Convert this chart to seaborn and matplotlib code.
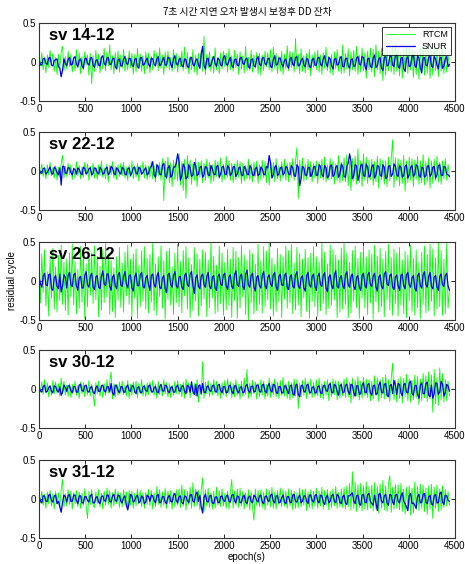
import numpy as np
import pandas as pd
import matplotlib
matplotlib.use("Agg")
import matplotlib.pyplot as plt
import seaborn as sns

# ---------------- data (residual, cycle) ----------------
title = "7초 시간 지연 오차 발생시 보정후 DD 잔차"
panel_labels = ["sv 14-12", "sv 22-12", "sv 26-12", "sv 30-12", "sv 31-12"]
series_names = ["RTCM", "SNUR"]
rtcm_step = 15       # s; RTCM samples at 0, 15, 30 ...
snur_step = 30       # s; SNUR "_a" at 0, 30, 60 ...; "_b" at 15, 45, 75 ...
xticks = [0, 500, 1000, 1500, 2000, 2500, 3000, 3500, 4000, 4500]
yticks = [-0.5, 0, 0.5]
ytick_labels = ["-0.5", "0", "0.5"]

rtcm_14 = [.08, -.05, .12, -.10, .04, -.14, .09, -.07, .15, -.03, .11, -.12, .06, -.16, .10, -.08, .13, .20, -.11, .07,
           -.09, .14, -.06, .10, -.13, .05, -.11, .16, -.08, .12, -.15, .07, -.10, .13, -.04, .09, -.17, .11, -.28, .08,
           -.12, .15, -.07, .10, -.14, .06, -.09, .18, -.11, .13, -.05, .22, -.10, .08, -.15, .12, -.06, .14, -.13, .09,
           -.08, .16, -.12, .05, -.10, .14, -.07, .11, -.16, .09, -.13, .17, -.06, .10, -.12, .08, -.15, .13, -.09, .11,
           -.14, .07, -.10, .15, -.05, .12, -.11, .18, -.08, .09, -.16, .13, -.07, .14, -.10, .06, -.12, .16, -.09, .11,
           -.13, .08, -.06, .14, -.11, .19, -.09, .12, -.15, .07, -.10, .16, -.13, .09, -.17, .11, -.08, .15, -.12, .33,
           -.16, .10, -.08, .13, -.12, .07, -.14, .18, -.10, .06, -.15, .12, -.09, .14, -.06, .11, -.13, .17, -.10, .08,
           -.12, .15, -.07, .10, -.16, .13, -.09, .08, -.14, .20, -.11, .06, -.10, .15, -.13, .09, -.08, .12, -.15, .11,
           -.17, .09, -.11, .14, -.06, .12, -.10, .16, -.13, .19, -.08, .11, -.15, .07, -.12, .14, -.16, .10, -.09, .21,
           -.11, .14, -.07, .12, -.13, .30, -.09, .10, -.15, .17, -.12, .08, -.14, .11, -.10, .16, -.18, .09, -.07, .13,
           -.10, .15, -.13, .09, -.16, .12, -.08, .19, -.11, .07, -.14, .10, -.17, .13, -.09, .16, -.12, .08, -.15, .22,
           -.14, .11, -.09, .17, -.18, .13, -.10, .15, -.12, .20, -.16, .09, -.13, .18, -.11, .12, -.21, .14, -.10, .18,
           -.13, .16, -.19, .22, -.10, .14, -.15, .18, -.24, .12, -.17, .19, -.11, .15, -.13, .21, -.16, .25, -.12, .17,
           -.18, .13, -.21, .16, -.12, .19, -.15, .23, -.10, .17, -.20, .14, -.16, .12, -.22, .18, -.13, .20, -.17, .15,
           -.14, .19, -.21, .13, -.17, .20, -.11, .16, -.19, .14, -.12, .18, -.15, .10, -.13, .09, -.06]

rtcm_22 = [.06, -.04, .09, -.07, .03, -.10, .08, -.05, .11, -.06, .04, -.09, .07, -.12, .05, -.08, .10, .20, -.09, .06,
           -.07, .10, -.05, .08, -.11, .04, -.09, .12, -.06, .07, -.10, .05, -.08, .11, -.04, .09, -.12, .06, -.07, .10,
           -.09, .05, -.11, .08, -.06, .13, -.08, .04, -.10, .09, -.14, .07, -.05, .12, -.09, .06, -.11, .08, -.07, .10,
           -.06, .11, -.09, .05, -.12, .08, -.07, .13, -.10, .06, -.08, .10, -.13, .07, -.05, .12, -.09, .08, -.11, .06,
           -.08, .12, -.10, .07, -.14, .09, -.06, .11, -.12, .16, -.38, .13, -.09, .18, -.15, .10, -.20, .14, -.11, .17,
           -.13, .22, -.18, .12, -.25, .15, -.35, .20, -.10, .14, -.17, .09, -.12, .16, -.20, .11, -.08, .13, -.15, .10,
           -.12, .15, -.09, .11, -.16, .08, -.13, .14, -.07, .12, -.10, .17, -.14, .09, -.11, .19, -.08, .13, -.12, .10,
           -.15, .09, -.11, .14, -.08, .12, -.16, .10, -.13, .07, -.10, .15, -.12, .09, -.14, .11, -.07, .13, -.16, .08,
           -.11, .14, -.09, .12, -.15, .10, -.18, .13, -.08, .11, -.14, .16, -.10, .07, -.13, .12, -.09, .15, -.12, .10,
           -.14, .11, -.08, .16, -.12, .13, .30, -.35, .14, -.10, .17, -.13, .09, -.11, .15, -.08, .12, -.14, .10, -.09,
           .13, -.16, .11, -.09, .15, -.12, .18, -.14, .08, -.11, .16, -.10, .13, -.17, .09, -.12, .20, -.15, .11, -.13,
           .17, -.14, .21, -.19, .12, -.25, .16, -.13, .19, -.17, .28, -.15, .13, -.20, .22, -.12, .18, -.16, .14, -.11,
           .15, -.18, .12, -.14, .19, -.22, .16, -.11, .14, -.17, .13, -.20, .18, -.13, .15, .40, -.21, .17, -.12, .16,
           -.19, .14, -.16, .20, -.26, .13, -.15, .18, -.12, .16, -.20, .14, -.11, .19, -.17, .13, -.15, .21, -.18, .12,
           -.14, .17, -.22, .13, -.16, .15, -.12, .19, -.14, .11, -.17, .13, -.10, .16, -.12, .09, -.08]

rtcm_26 = [.20, -.28, .35, -.15, .40, -.32, .12, -.45, .30, -.22, .42, -.36, .18, -.40, .33, -.25, .46, -.30, .24, -.38,
           .28, -.44, .36, -.20, .47, -.31, .25, -.42, .15, -.35, .44, -.27, .38, -.48, .22, -.33, .41, -.18, .36, -.29,
           .45, -.24, .32, -.46, .19, -.37, .40, -.28, .48, -.21, .34, -.43, .26, -.39, .17, -.47, .31, -.25, .43, -.34,
           .23, -.40, .37, -.19, .46, -.30, .28, -.45, .35, -.22, .41, -.48, .20, -.33, .39, -.26, .44, -.36, .29, -.41,
           .34, -.27, .48, -.38, .22, -.44, .31, -.20, .45, -.35, .26, -.49, .38, -.24, .42, -.31, .18, -.43, .36, -.28,
           .47, -.33, .25, -.41, .39, -.19, .44, -.36, .30, -.47, .21, -.38, .43, -.26, .35, -.45, .28, -.32, .40, -.23,
           .37, -.46, .27, -.34, .49, -.22, .32, -.42, .20, -.39, .45, -.29, .36, -.44, .24, -.37, .41, -.31, .28, -.47,
           .43, -.25, .38, -.48, .30, -.35, .46, -.21, .33, -.43, .27, -.50, .40, -.28, .35, -.42, .22, -.38, .47, -.30,
           .26, -.41, .44, -.33, .38, -.24, .49, -.36, .29, -.45, .21, -.39, .42, -.27, .34, -.47, .31, -.23, .45, -.35,
           .39, -.28, .47, -.42, .23, -.37, .43, -.31, .35, -.46, .28, -.22, .41, -.39, .30, -.48, .36, -.26, .44, -.33,
           .31, -.45, .25, -.38, .48, -.29, .37, -.43, .22, -.35, .46, -.31, .40, -.24, .33, -.47, .27, -.40, .42, -.36,
           .48, -.30, .36, -.47, .24, -.41, .39, -.26, .45, -.34, .29, -.48, .37, -.22, .44, -.35, .31, -.43, .40, -.28,
           .35, -.49, .46, -.27, .32, -.40, .42, -.33, .28, -.46, .38, -.24, .47, -.37, .30, -.44, .41, -.29, .36, -.45,
           .43, -.31, .27, -.42, .38, -.47, .33, -.25, .46, -.39, .29, -.44, .40, -.34, .24, -.48, .37, -.30, .45, -.41,
           .34, -.38, .47, -.26, .41, -.45, .30, -.36, .49, -.33, .39, -.44, .28, -.42, .48, -.35, -.10]

rtcm_30 = [.06, -.04, .09, -.07, .12, -.05, .08, -.10, .04, -.08, .11, -.06, .09, -.05, .07, -.09, .14, -.06, .10, -.08,
           .05, -.09, .07, -.11, .06, -.04, .10, -.08, .05, -.12, .09, -.06, .08, -.10, .04, -.07, .11, -.09, .06, -.05,
           -.22, .08, -.06, .10, -.09, .05, -.11, .07, -.08, .12, -.05, .09, .22, -.13, .07, -.10, .06, -.08, .09, -.05,
           .10, -.07, .05, -.09, .11, -.12, .06, -.08, .09, -.05, .10, -.11, .07, -.06, .12, -.09, .05, -.10, .08, -.07,
           .09, -.05, .11, -.08, .06, -.12, .10, -.07, .05, -.09, .12, -.06, .08, -.10, .07, -.11, .05, -.08, .10, -.06,
           .11, -.07, .06, -.10, .09, -.12, .13, -.05, .08, -.11, .10, -.06, .07, -.09, .12, -.17, .06, -.08, .35, -.12,
           .09, -.06, .11, -.10, .07, -.08, .12, -.05, .10, -.09, .06, -.12, .08, -.07, .11, -.10, .13, -.06, .09, -.11,
           .07, -.10, .12, -.08, .06, -.13, .10, -.09, .14, -.07, .25, -.12, .08, -.10, .11, -.06, .09, -.13, .07, -.10,
           .12, -.08, .10, -.13, .06, -.09, .14, -.11, .08, -.07, .13, -.10, .09, -.12, .11, -.08, .15, -.09, .07, -.12,
           .10, -.14, .08, -.11, .13, -.09, .12, -.25, .07, -.10, .11, -.08, .14, -.12, .09, -.07, .13, -.11, .08, -.10,
           .12, -.09, .14, -.11, .07, -.13, .10, -.08, .12, -.15, .09, -.10, .13, -.07, .11, -.14, .10, -.12, .08, -.09,
           .13, -.11, .15, -.10, .09, -.18, .14, -.12, .11, -.09, .16, -.14, .10, -.12, .15, -.08, .13, -.11, .12, -.15,
           .10, -.13, .17, -.09, .14, -.16, .12, -.11, .15, -.13, .18, -.10, .12, -.16, .14, .33, -.14, .11, -.17, .13,
           -.12, .16, -.18, .14, -.10, .19, -.15, .13, -.17, .11, -.14, .18, -.12, .16, -.20, .13, -.15, .20, -.11, .17,
           -.16, .22, -.13, .18, -.30, .25, -.19, .15, -.21, .27, -.14, .20, -.17, .12, -.15, .10, -.09]

rtcm_31 = [.08, -.05, .10, -.08, .06, -.12, .09, -.06, .11, -.09, .07, -.13, .10, -.06, .08, -.11, .12, .25, -.10, .07,
           -.09, .12, -.07, .10, -.13, .08, -.06, .11, -.10, .09, -.12, .07, -.08, .13, -.09, -.25, .10, -.07, .12, -.08,
           -.11, .09, -.06, .12, -.10, .07, -.13, .10, -.08, .14, -.07, .11, -.12, .08, -.09, .13, -.06, .10, -.11, .08,
           -.10, .12, -.07, .09, -.13, .11, -.08, .10, -.12, .07, -.09, .13, -.06, .11, -.10, .08, -.12, .09, -.07, .12,
           -.09, .11, -.13, .08, -.10, .16, -.07, .12, -.11, .09, -.08, .14, -.12, .10, -.06, .11, -.13, .08, -.10, .12,
           -.08, .13, -.11, .18, -.09, .12, -.14, .10, -.07, .15, -.12, .21, -.10, .13, -.09, .11, -.14, .12, .27, -.16,
           .12, -.09, .14, -.11, .08, -.13, .10, -.12, .15, -.08, .11, -.10, .13, -.09, .07, -.12, .10, -.13, .09, .25,
           -.12, .10, -.08, .13, -.11, .14, -.09, .10, -.13, .08, -.10, .12, -.14, .09, -.11, -.27, .13, -.08, .11, -.10,
           .12, -.11, .09, -.14, .13, -.08, .11, -.10, .15, -.12, .09, -.13, .11, -.07, .14, -.10, .12, -.09, .10, -.12,
           .13, -.09, .11, -.14, .10, -.12, .08, -.11, .14, -.10, .12, -.08, .13, -.15, .09, -.11, .12, -.13, .10, -.09,
           .14, -.12, .10, -.09, .15, -.13, .11, -.08, .12, -.14, .10, -.11, .13, -.09, .16, -.12, .08, -.10, .13, -.11,
           .15, -.13, .17, -.10, .20, -.14, .35, -.12, .22, -.16, .18, -.11, .20, -.15, .17, -.13, .22, -.14, .16, -.12,
           .18, -.15, .21, -.13, .16, -.18, .19, -.12, .24, -.14, .17, -.16, .20, .30, -.17, .15, -.13, .19, -.12, .18,
           -.14, .20, -.16, .13, -.19, .15, -.12, .17, -.21, .14, -.18, .22, -.13, .16, -.15, .19, -.12, .18, -.16, .14,
           -.20, .17, -.13, .19, -.25, .15, -.12, .18, -.16, .13, -.14, .17, -.11, .12, -.09, .10, -.08]

snur_14_a = [.02, -.04, .05, -.03, .06, -.05, .03, -.06, -.19, .04,
             -.05, .06, -.03, .07, -.06, .04, -.08, .05, -.04, .06,
             -.07, .03, -.05, .08, -.04, .06, -.03, .05, -.09, .04,
             -.05, .07, -.03, .04, -.06, .05, -.08, .06, -.03, .05,
             -.06, .04, -.05, .07, -.03, .06, -.04, .05, -.07, .08,
             -.04, .05, -.06, .03, -.07, .06, -.05, .04, -.08, .20,
             -.09, .05, -.04, .07, -.06, .03, -.05, .08, -.04, .06,
             -.07, .04, -.05, .06, -.03, .05, -.08, .04, -.06, .07,
             -.05, .06, -.04, .05, -.07, .08, -.03, .05, -.06, .04,
             -.08, .06, -.05, .07, -.04, .05, -.06, .03, -.07, .05,
             -.04, .06, -.05, .08, -.06, .04, -.09, .05, -.03, .07,
             -.06, .05, -.08, .04, -.05, .07, -.04, .06, -.10, .05,
             -.07, .09, -.05, .06, -.11, .07, -.04, .08, -.06, .10,
             -.08, .06, -.12, .07, -.05, .09, -.07, .05, -.14, .06,
             -.05, .08, -.07, .04, -.09, .06, -.05, .07, -.03]
snur_14_b = [-.03, .04, -.02, .05, -.04, .02, .04, -.08, -.10, -.02,
             .03, -.04, .05, -.03, .02, -.05, .04, -.02, .05, -.04,
             .02, -.04, .06, -.02, .05, -.03, .04, -.06, .03, -.05,
             .04, -.02, .05, -.04, .03, -.06, .05, -.04, .02, -.03,
             .05, -.03, .04, -.05, .02, -.04, .06, -.03, .04, -.02,
             .03, -.05, .04, -.06, .05, -.03, .02, -.04, .10, -.05,
             .04, -.06, .03, -.02, .05, -.04, .06, -.03, .02, -.05,
             .03, -.04, .05, -.02, .04, -.06, .03, -.05, .04, -.03,
             .05, -.02, .04, -.06, .03, -.04, .05, -.03, .02, -.05,
             .04, -.03, .06, -.05, .02, -.04, .05, -.06, .03, -.04,
             .05, -.03, .04, -.02, .06, -.05, .03, -.04, .05, -.06,
             .04, -.05, .03, -.06, .05, -.03, .07, -.05, .04, -.06,
             .05, -.07, .04, -.08, .06, -.05, .07, -.04, .08, -.06,
             .05, -.09, .04, -.06, .07, -.05, .08, -.07, .05, -.04,
             .06, -.05, .07, -.04, .05, -.08, .04, -.06]

snur_22_a = [.02, -.03, .04, -.02, .05, -.04, .03, -.05, -.18, .06,
             -.03, .04, -.05, .02, .04, -.03, .05, -.04, .03, -.05,
             .04, -.02, .05, -.04, .03, -.05, .06, -.03, .04, -.02,
             .05, -.04, .03, -.06, .04, -.03, .05, -.04, .02, -.05,
             .04, .12, -.08, .06, -.05, .10, -.09, .07, -.06, .05,
             .22, -.12, .09, -.10, .08, -.07, .11, -.06, .05, -.08,
             .06, -.05, .07, -.04, .06, -.08, .05, -.04, .07, -.06,
             .05, -.07, .04, -.05, .06, -.04, .07, -.05, .03, -.06,
             .05, -.04, .06, .20, -.09, .05, -.06, .04, -.05, .06,
             -.04, .07, -.06, .08, -.19, .06, -.05, .04, -.07, .05,
             -.06, .08, -.05, .07, -.09, .06, -.07, .05, -.08, .09,
             -.07, .06, .22, -.10, .08, -.12, .07, -.06, .09, -.08,
             .06, -.09, .07, -.05, .08, -.10, .06, -.07, .09, -.05,
             .07, -.08, .06, -.09, .05, -.07, .08, -.06, .05, -.08,
             .06, -.07, .05, -.09, .07, -.05, .06, -.04, -.07]
snur_22_b = [-.02, .03, -.04, .02, -.03, .05, -.02, .04, .06, -.03,
             .04, -.02, .03, -.04, .02, -.05, .03, -.02, .04, -.03,
             .03, -.04, .02, -.03, .05, -.02, .04, -.05, .02, -.04,
             .03, -.05, .04, -.02, .05, -.04, .03, -.02, .04, -.03,
             .06, -.05, .08, -.04, .07, -.06, .04, -.08, .05, .10,
             .12, -.06, .05, -.08, .04, -.05, .07, -.04, .06, -.05,
             .04, -.06, .03, -.05, .07, -.04, .06, -.05, .04, -.03,
             .06, -.04, .05, -.06, .03, -.05, .04, -.06, .05, -.04,
             .03, -.05, .04, .10, -.05, .07, -.04, .05, -.03, .04,
             -.05, .04, -.07, .05, -.10, .04, -.06, .05, -.04, .06,
             -.05, .06, -.07, .04, -.06, .08, -.05, .07, -.04, .06,
             -.08, .10, .12, -.06, .07, -.05, .09, -.07, .05, -.06,
             .08, -.05, .06, -.07, .05, -.08, .07, -.04, .06, -.07,
             .05, -.06, .08, -.05, .07, -.04, .06, -.08, .04, -.06,
             .07, -.04, .06, -.05, .08, -.06, .05, -.05]

snur_26_a = [.05, -.08, .10, -.06, .09, -.12, .07, -.10, -.14, .08,
             -.09, .11, -.07, .10, -.12, .06, -.09, .12, -.08, .10,
             -.11, .07, -.10, .13, -.06, .09, -.12, .08, -.10, .11,
             -.07, .12, -.09, .08, -.13, .10, -.06, .11, -.09, .07,
             -.12, .09, -.08, .11, -.10, .07, -.15, .10, -.08, .12,
             -.09, .06, -.11, .10, -.07, .12, -.16, .08, -.10, .09,
             -.08, .11, -.10, .07, -.12, .09, -.06, .10, -.11, .08,
             -.10, .13, -.07, .09, -.11, .14, -.08, .10, -.13, .07,
             -.09, .12, -.10, .08, -.07, .11, -.12, .09, -.06, .10,
             -.11, .08, -.09, .12, -.10, .07, -.13, .11, -.08, .09,
             -.12, .10, -.07, .11, -.14, .08, -.10, .13, -.09, .07,
             -.10, .12, -.08, .09, -.11, .07, -.12, .10, -.09, .11,
             -.07, .10, -.13, .08, -.10, .12, -.06, .09, -.11, .08,
             -.12, .09, -.10, .11, -.08, .07, -.13, .10, -.09, .12,
             -.08, .11, -.10, .07, -.12, .09, -.07, .10, -.12]
snur_26_b = [-.03, .06, -.05, .08, -.10, .04, -.07, .09, -.06, .05,
             .07, -.05, .08, -.06, .04, -.09, .07, -.05, .06, -.08,
             .05, -.08, .06, -.04, .09, -.07, .05, -.06, .08, -.05,
             .06, -.04, .07, -.09, .05, -.06, .08, -.07, .04, -.05,
             .07, -.05, .06, -.08, .04, -.10, .08, -.05, .07, -.06,
             .05, -.08, .07, -.05, .09, -.06, .04, -.07, .06, -.05,
             .06, -.07, .05, -.09, .06, -.04, .08, -.06, .05, -.07,
             .08, -.05, .06, -.07, .09, -.05, .07, -.08, .05, -.06,
             .07, -.06, .05, -.04, .08, -.07, .06, -.05, .07, -.08,
             .05, -.07, .08, -.06, .04, -.09, .07, -.05, .06, -.07,
             .06, -.05, .07, -.09, .05, -.06, .08, -.07, .04, -.06,
             .08, -.05, .06, -.07, .05, -.08, .07, -.06, .08, -.05,
             .06, -.08, .05, -.07, .09, -.04, .07, -.08, .05, -.06,
             .07, -.06, .08, -.05, .04, -.09, .07, -.06, .08, -.05,
             .06, -.07, .05, -.08, .06, -.05, .07, -.06]

snur_30_a = [.02, -.04, .05, -.03, .04, -.05, .03, -.04, -.08, .05,
             -.03, .04, -.05, .03, -.04, .06, -.03, .05, -.04, .03,
             -.06, .04, -.03, .05, -.04, .03, .07, -.08, .04, -.05,
             .03, -.04, .05, -.03, .04, -.06, .03, -.05, .04, -.03,
             .05, -.04, .03, -.05, .06, -.03, .04, -.05, .03, -.04,
             .05, -.03, .04, -.06, .03, .09, -.07, -.09, .05, .07,
             -.05, .04, -.03, .05, -.04, .06, -.05, .03, -.04, .05,
             -.06, .04, -.05, .03, -.04, .06, -.05, .04, -.03, .05,
             -.04, .06, -.05, .07, -.04, .05, -.06, .03, -.05, .04,
             -.06, .05, -.08, .06, -.10, .05, -.04, .06, -.05, .03,
             -.05, .04, -.06, .05, -.03, .07, -.05, .04, -.08, .06,
             -.04, .06, -.07, .05, -.09, .04, -.06, .08, -.05, .07,
             -.08, .05, -.06, .09, -.05, .07, -.10, .06, .11, -.07,
             .06, -.09, .07, -.05, .10, -.08, .05, -.12, .08, -.06,
             .09, -.10, -.12, .08, -.07, .10, -.09, .06, -.03]
snur_30_b = [-.02, .03, -.04, .02, -.03, .04, -.02, .03, -.04, .02,
             .04, -.02, .03, -.04, .05, -.02, .04, -.03, .02, -.04,
             .02, -.03, .04, -.02, .03, -.04, -.05, .05, -.02, .03,
             -.04, .03, -.02, .04, -.03, .02, -.04, .03, -.02, .04,
             -.03, .02, -.04, .03, -.02, .05, -.03, .02, -.04, .03,
             -.02, .04, -.03, .05, -.04, -.03, .06, .04, -.06, -.04,
             .03, -.02, .04, -.03, .05, -.02, .03, -.05, .04, -.03,
             .04, -.03, .02, -.05, .04, -.02, .03, -.04, .05, -.03,
             .05, -.03, .04, -.02, .06, -.04, .03, -.05, .04, -.02,
             .04, -.06, .05, -.07, .04, -.03, .05, -.04, .02, -.05,
             .03, -.05, .04, -.02, .05, -.04, .06, -.03, .04, -.05,
             .05, -.03, .06, -.05, .04, -.07, .05, -.04, .06, -.05,
             .04, -.07, .05, -.04, .06, -.08, .04, -.06, .05, .07,
             -.05, .06, -.04, .08, -.06, .04, -.07, .05, -.06, .07,
             -.08, .05, -.06, .07, -.04, .06, -.05, .04]

snur_31_a = [.03, -.05, .04, -.03, .06, -.04, .05, -.03, -.17, .05,
             -.04, .06, -.03, .05, -.06, .04, -.05, .03, -.04, .06,
             -.05, .03, -.06, .04, -.03, .05, -.04, .06, -.03, .04,
             -.05, .04, -.14, .06, -.04, .03, -.05, .04, -.06, .05,
             -.03, .04, -.05, .06, -.04, .03, -.06, .05, -.04, .07,
             -.05, .04, -.06, .03, -.05, .06, -.04, .09, .05, -.18,
             .06, -.04, .05, -.06, .03, -.05, .04, -.03, .05, -.04,
             .06, -.05, .03, -.04, .05, -.06, .04, -.05, .03, -.04,
             .05, -.06, .04, -.03, .06, -.05, .04, -.04, .05, -.06,
             .03, -.05, .06, -.04, .05, -.03, .04, -.06, .05, -.04,
             .06, -.05, .04, -.07, .05, -.03, .06, -.05, .04, -.06,
             .05, -.07, .04, .08, -.06, .05, -.08, .06, -.05, .07,
             -.06, .05, -.15, .07, -.05, .06, -.08, .05, -.07, .06,
             -.05, .08, -.06, -.15, .07, -.05, -.12, .06, -.04, .07,
             -.06, .05, -.08, .06, -.05, .09, -.07, .04, -.03]
snur_31_b = [-.02, .04, -.03, .05, -.02, .04, -.06, -.10, -.04, .03,
             .04, -.03, .05, -.02, .04, -.05, .03, -.02, .04, -.05,
             .02, -.04, .03, -.02, .05, -.03, .04, -.02, .05, -.03,
             .02, -.08, -.05, .04, -.02, .05, -.03, .02, -.04, .03,
             .05, -.02, .04, -.05, .03, -.04, .02, -.03, .05, -.02,
             .03, -.05, .04, -.02, .05, -.03, .06, -.03, -.10, .02,
             -.03, .04, -.05, .02, -.04, .03, -.02, .04, -.03, .05,
             -.02, .04, -.05, .03, -.04, .02, -.03, .05, -.02, .04,
             -.04, .03, -.02, .05, -.03, .04, -.05, .02, -.04, .03,
             -.04, .05, -.03, .02, -.05, .04, -.03, .05, -.02, .04,
             -.03, .05, -.04, .02, -.05, .04, -.03, .06, -.04, .03,
             -.05, .04, .06, -.03, .04, -.06, .05, -.04, .06, -.03,
             -.08, -.05, .06, -.03, .04, -.05, .06, -.04, .05, -.03,
             .04, -.03, -.10, .04, -.06, -.08, .03, -.05, .06, -.04,
             .03, -.06, .04, -.05, .07, -.04, .05, -.02]

rtcm_all = [rtcm_14, rtcm_22, rtcm_26, rtcm_30, rtcm_31]
snur_a = [snur_14_a, snur_22_a, snur_26_a, snur_30_a, snur_31_a]
snur_b = [snur_14_b, snur_22_b, snur_26_b, snur_30_b, snur_31_b]


def rtcm_frame(vals):
    return pd.DataFrame({"epoch": np.arange(len(vals)) * rtcm_step,
                         "res": vals})


def snur_frame(vals_a, vals_b):
    ea = np.arange(len(vals_a)) * snur_step
    eb = np.arange(len(vals_b)) * snur_step + snur_step / 2
    df = pd.DataFrame({"epoch": np.concatenate([ea, eb]),
                       "res": np.concatenate([vals_a, vals_b])})
    return df.sort_values("epoch").reset_index(drop=True)


# ---------------- style ----------------
sns.set_style("white")
plt.rcParams["font.family"] = ["Liberation Sans", "DejaVu Sans"]
plt.rcParams["axes.unicode_minus"] = False
plt.rcParams["text.color"] = "black"
plt.rcParams["axes.labelcolor"] = "black"

fig = plt.figure(figsize=(4.65, 5.64), dpi=100)
fig.patch.set_facecolor("white")

W, H = 465.0, 564.0
left_px, right_px, h_px = 39, 455, 78
tops_px = [23, 132, 242, 350, 460]

axes = []
for k in range(5):
    df_r = rtcm_frame(rtcm_all[k])
    df_s = snur_frame(snur_a[k], snur_b[k])
    ax = fig.add_axes([left_px / W, 1 - (tops_px[k] + h_px) / H,
                       (right_px - left_px) / W, h_px / H])
    sns.lineplot(data=df_r, x="epoch", y="res", ax=ax, color=(0, 1, 0),
                 lw=0.6, estimator=None, sort=False, label=series_names[0])
    sns.lineplot(data=df_s, x="epoch", y="res", ax=ax, color=(0, 0, 0.95),
                 lw=0.9, estimator=None, sort=False, label=series_names[1])
    ax.set_xlim(0, 4500)
    ax.set_ylim(-0.5, 0.5)
    ax.set_xticks(xticks)
    ax.set_xticklabels([str(t) for t in xticks])
    ax.set_yticks(yticks)
    ax.set_yticklabels(ytick_labels)
    ax.tick_params(direction="in", length=3, width=0.6, labelsize=7,
                   top=True, right=True, bottom=True, left=True, pad=2,
                   colors="black")
    for sp in ax.spines.values():
        sp.set_color("#333333")
        sp.set_linewidth(0.8)
    ax.set_xlabel("")
    ax.set_ylabel("")
    ax.text(0.024, 0.845, panel_labels[k], transform=ax.transAxes,
            fontsize=12, fontweight="bold", va="center", ha="left",
            color="black",
            family=["Liberation Sans Narrow", "Liberation Sans", "DejaVu Sans"])
    if k == 0:
        leg = ax.legend(loc="upper right", fontsize=6.5, frameon=True,
                        fancybox=False, handlelength=3.2, borderpad=0.4,
                        labelspacing=0.3, borderaxespad=0.4)
        leg.get_frame().set_edgecolor("black")
        leg.get_frame().set_linewidth(0.7)
    else:
        lg = ax.get_legend()
        if lg is not None:
            lg.remove()
    axes.append(ax)

axes[0].set_title(title, fontsize=7, pad=6, color="black",
                  family=["Noto Sans CJK KR", "DejaVu Sans"])
axes[2].set_ylabel("residual cycle", fontsize=7, labelpad=2)
axes[4].set_xlabel("epoch(s)", fontsize=7, labelpad=1)

fig.savefig("out.png", dpi=100, facecolor="white")
